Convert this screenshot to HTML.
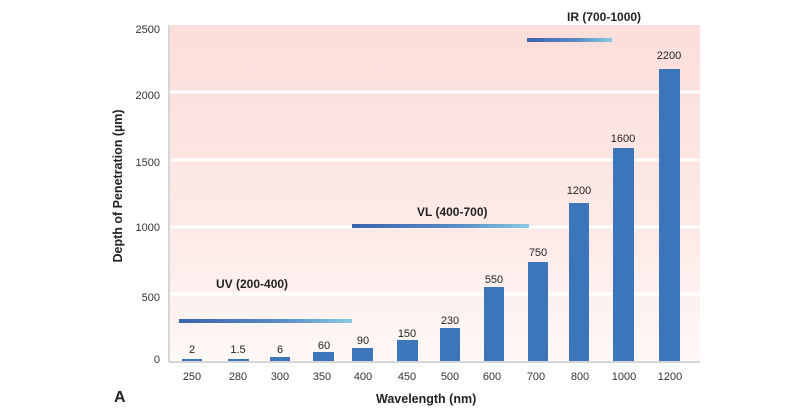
<!DOCTYPE html>
<html><head><style>
body{margin:0;background:#fff;}
svg text{font-family:"Liberation Sans",sans-serif;}
</style></head><body>
<svg width="800" height="414" xmlns="http://www.w3.org/2000/svg">
<defs>
<linearGradient id="bg" x1="0" y1="0" x2="0" y2="1">
<stop offset="0" stop-color="#fcdeda"/><stop offset="0.6" stop-color="#fdeae7"/><stop offset="1" stop-color="#fef8f7"/></linearGradient>
<linearGradient id="ln" x1="0" y1="0" x2="1" y2="0">
<stop offset="0" stop-color="#3a64ab"/><stop offset="0.6" stop-color="#5a8cc6"/><stop offset="1" stop-color="#8cc9e0"/></linearGradient>
</defs>
<rect x="170" y="25" width="530" height="336" fill="url(#bg)"/>
<g stroke="#fff" stroke-width="3">
<line x1="170" y1="92" x2="700" y2="92"/><line x1="170" y1="160" x2="700" y2="160"/>
<line x1="170" y1="227" x2="700" y2="227"/><line x1="170" y1="294" x2="700" y2="294"/></g>
<line x1="169" y1="25" x2="169" y2="362" stroke="#c8c8c8" stroke-width="1.5"/>
<line x1="169" y1="362" x2="700" y2="362" stroke="#c8c8c8" stroke-width="1.5"/>
<g font-size="11" fill="#333" text-anchor="end">
<text x="160" y="33">2500</text><text x="160" y="99">2000</text><text x="160" y="166">1500</text>
<text x="160" y="231">1000</text><text x="160" y="301">500</text><text x="160" y="363">0</text></g>
<g fill="#3d75ba">
<rect x="182" y="359" width="20" height="2"/><rect x="228" y="359" width="21" height="2"/>
<rect x="270" y="357" width="20" height="4"/><rect x="313" y="352" width="21" height="9"/>
<rect x="352" y="348" width="21" height="13"/><rect x="397" y="340" width="21" height="21"/>
<rect x="440" y="328" width="20" height="33"/><rect x="484" y="287" width="20" height="74"/>
<rect x="528" y="262" width="20" height="99"/><rect x="569" y="203" width="20" height="158"/>
<rect x="613" y="148" width="21" height="213"/><rect x="659" y="69" width="21" height="292"/></g>
<g font-size="11" fill="#222" text-anchor="middle">
<text x="192" y="353">2</text><text x="238" y="353">1.5</text><text x="280" y="353">6</text>
<text x="324" y="349">60</text><text x="363" y="344">90</text><text x="407" y="337">150</text>
<text x="450" y="324">230</text><text x="494" y="283">550</text><text x="538" y="256">750</text>
<text x="579" y="194">1200</text><text x="623" y="142">1600</text><text x="669" y="59">2200</text></g>
<g font-size="11" fill="#333" text-anchor="middle">
<text x="192" y="380">250</text><text x="238" y="380">280</text><text x="280" y="380">300</text>
<text x="322" y="380">350</text><text x="363" y="380">400</text><text x="407" y="380">450</text>
<text x="450" y="380">500</text><text x="492" y="380">600</text><text x="536" y="380">700</text>
<text x="580" y="380">800</text><text x="624" y="380">1000</text><text x="670" y="380">1200</text></g>
<rect x="179" y="319" width="173" height="4" fill="url(#ln)"/>
<rect x="352" y="224" width="177" height="4" fill="url(#ln)"/>
<rect x="527" y="38" width="85" height="4" fill="url(#ln)"/>
<g font-size="12" font-weight="bold" fill="#222">
<text x="216" y="288">UV (200-400)</text><text x="417" y="216">VL (400-700)</text>
<text x="567" y="21">IR (700-1000)</text>
<text x="376" y="403" font-size="12.5">Wavelength (nm)</text>
<text x="0" y="0" transform="translate(122,186) rotate(-90)" text-anchor="middle" font-size="12.5">Depth of Penetration (µm)</text>
<text x="114" y="402" font-size="16">A</text></g>
</svg>
</body></html>
